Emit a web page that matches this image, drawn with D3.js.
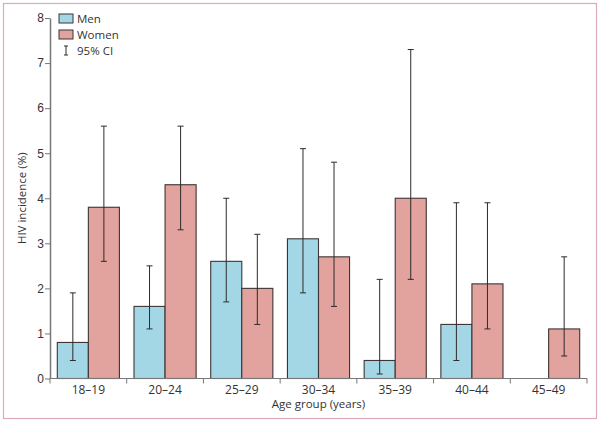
<!DOCTYPE html>
<html>
<head>
	<meta charset="utf-8">
	<title>HIV incidence by age group</title>
	<style type="text/css">
		body {
			margin: 0;
			background: #fff;
			font-family: "Open Sans", "Noto Sans", sans-serif;
		}
		.axis text {
			font-size: 12px;
			fill: #333;
		}
		.axis path, .axis line {
			stroke: #777;
		}
	</style>
</head>
<body>
	<div id="chart"></div>
	<script src="https://d3js.org/d3.v7.min.js"></script>
	<script type="text/javascript">
		var ageGroups = ["18–19", "20–24", "25–29", "30–34", "35–39", "40–44", "45–49"];
		var sexes = ["Men", "Women"];

		var menValues = [0.8, 1.6, 2.6, 3.1, 0.4, 1.2, null];
		var menLower  = [0.4, 1.1, 1.7, 1.9, 0.1, 0.4, null];
		var menUpper  = [1.9, 2.5, 4.0, 5.1, 2.2, 3.9, null];

		var womenValues = [3.8, 4.3, 2.0, 2.7, 4.0, 2.1, 1.1];
		var womenLower  = [2.6, 3.3, 1.2, 1.6, 2.2, 1.1, 0.5];
		var womenUpper  = [5.6, 5.6, 3.2, 4.8, 7.3, 3.9, 2.7];

		var yTicks = [0, 1, 2, 3, 4, 5, 6, 7, 8];

		var colors = { Men: "#a3d7e6", Women: "#e2a29e" };

		var width = 600, height = 422;
		var margin = { left: 50, right: 13, top: 18, bottom: 43.5 };

		var svg = d3.select("#chart").append("svg")
			.attr("width", width)
			.attr("height", height);

		// pink frame
		svg.append("rect")
			.attr("x", 3.5).attr("y", 3.5)
			.attr("width", 593).attr("height", 415)
			.attr("fill", "none")
			.attr("stroke", "#dcaabb")
			.attr("stroke-width", 1.2);

		var x0 = d3.scaleBand()
			.domain(ageGroups)
			.range([margin.left, width - margin.right]);

		var x1 = d3.scaleBand()
			.domain(sexes)
			.range([7.3, x0.bandwidth() - 7.3]);

		var y = d3.scaleLinear()
			.domain([0, 8])
			.range([height - margin.bottom, margin.top]);

		// rows for each bar
		var rows = [];
		ageGroups.forEach(function(g, i) {
			rows.push({ group: g, sex: "Men", value: menValues[i], lo: menLower[i], hi: menUpper[i] });
			rows.push({ group: g, sex: "Women", value: womenValues[i], lo: womenLower[i], hi: womenUpper[i] });
		});
		var present = rows.filter(function(d) { return d.value != null; });

		svg.selectAll("rect.bar")
			.data(present)
			.enter()
			.append("rect")
			.attr("class", "bar")
			.attr("x", function(d) { return x0(d.group) + x1(d.sex); })
			.attr("y", function(d) { return y(d.value); })
			.attr("width", x1.bandwidth())
			.attr("height", function(d) { return y(0) - y(d.value); })
			.attr("fill", function(d) { return colors[d.sex]; })
			.attr("stroke", "#3d3535")
			.attr("stroke-width", 1.1);

		// error bars
		var err = svg.selectAll("g.err")
			.data(present)
			.enter()
			.append("g")
			.attr("class", "err")
			.attr("transform", function(d) {
				return "translate(" + (x0(d.group) + x1(d.sex) + x1.bandwidth() / 2) + ",0)";
			})
			.attr("stroke", "#2e2a2a")
			.attr("stroke-width", 1);

		err.append("line")
			.attr("x1", 0).attr("x2", 0)
			.attr("y1", function(d) { return y(d.lo); })
			.attr("y2", function(d) { return y(d.hi); });
		err.append("line")
			.attr("x1", -3).attr("x2", 3)
			.attr("y1", function(d) { return y(d.lo); })
			.attr("y2", function(d) { return y(d.lo); });
		err.append("line")
			.attr("x1", -3).attr("x2", 3)
			.attr("y1", function(d) { return y(d.hi); })
			.attr("y2", function(d) { return y(d.hi); });

		// y axis
		var yAxis = svg.append("g")
			.attr("class", "axis")
			.attr("transform", "translate(" + margin.left + ",0)")
			.call(d3.axisLeft(y).tickValues(yTicks).tickFormat(d3.format("d")).tickSize(5).tickSizeOuter(0));
		yAxis.select(".domain").attr("stroke-width", 1.5);
		yAxis.selectAll("text").attr("x", -6);

		// x axis: ticks at group boundaries
		var xAxis = svg.append("g")
			.attr("class", "axis")
			.attr("transform", "translate(0," + y(0) + ")");
		xAxis.append("line")
			.attr("x1", margin.left).attr("x2", width - margin.right)
			.attr("stroke", "#555").attr("stroke-width", 1.2);
		var bounds = ageGroups.map(function(g) { return x0(g); }).concat([width - margin.right]);
		xAxis.selectAll("line.tk")
			.data(bounds)
			.enter()
			.append("line")
			.attr("class", "tk")
			.attr("x1", function(d) { return d; }).attr("x2", function(d) { return d; })
			.attr("y1", 0).attr("y2", 5);
		xAxis.selectAll("text")
			.data(ageGroups)
			.enter()
			.append("text")
			.attr("x", function(d) { return x0(d) + x0.bandwidth() / 2; })
			.attr("y", 15)
			.attr("text-anchor", "middle")
			.text(function(d) { return d; });

		// axis titles
		svg.append("text")
			.attr("x", (margin.left + width - margin.right) / 2)
			.attr("y", 408)
			.attr("text-anchor", "middle")
			.attr("font-size", 11.5)
			.attr("fill", "#333")
			.text("Age group (years)");

		svg.append("text")
			.attr("transform", "translate(26," + y(4) + ") rotate(-90)")
			.attr("text-anchor", "middle")
			.attr("font-size", 11.5)
			.attr("fill", "#333")
			.text("HIV incidence (%)");

		// legend
		var legend = svg.append("g").attr("transform", "translate(59,14)");
		legend.selectAll("rect")
			.data(sexes)
			.enter()
			.append("rect")
			.attr("x", 0)
			.attr("y", function(d, i) { return i * 16; })
			.attr("width", 14).attr("height", 9)
			.attr("fill", function(d) { return colors[d]; })
			.attr("stroke", "#3d3535");
		legend.selectAll("text.lab")
			.data(sexes.concat(["95% CI"]))
			.enter()
			.append("text")
			.attr("class", "lab")
			.attr("x", 18)
			.attr("y", function(d, i) { return 9 + i * 16; })
			.attr("font-size", 11.5)
			.attr("fill", "#333")
			.text(function(d) { return d; });
		var ci = legend.append("g").attr("stroke", "#2e2a2a").attr("stroke-width", 1);
		ci.append("line").attr("x1", 7).attr("x2", 7).attr("y1", 32).attr("y2", 41);
		ci.append("line").attr("x1", 5).attr("x2", 9).attr("y1", 32).attr("y2", 32);
		ci.append("line").attr("x1", 5).attr("x2", 9).attr("y1", 41).attr("y2", 41);
	</script>
</body>
</html>
